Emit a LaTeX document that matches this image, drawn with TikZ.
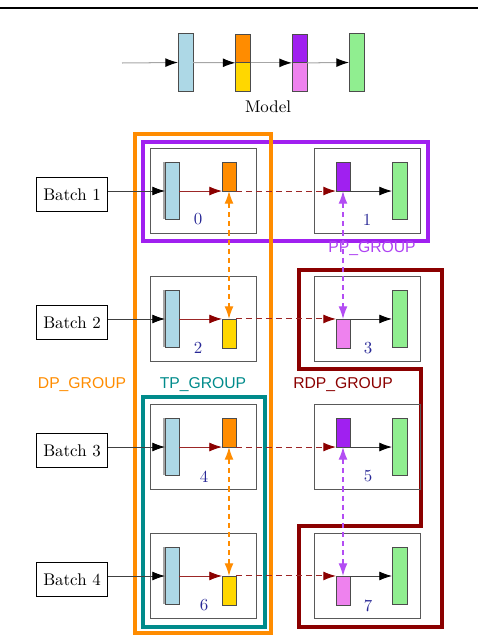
\documentclass[tikz,border=0pt]{standalone}
\usepackage{fontspec}
\newfontfamily\grpfont{Liberation Sans}
\usetikzlibrary{arrows.meta,shadows}
\definecolor{lblue}{HTML}{ADD8E6}
\definecolor{dorange}{HTML}{FF8C00}
\definecolor{goldc}{HTML}{FFD700}
\definecolor{vpurple}{HTML}{A020F0}
\definecolor{violetc}{HTML}{EE82EE}
\definecolor{lgreen}{HTML}{90EE90}
\definecolor{dred}{HTML}{8B0000}
\definecolor{dteal}{HTML}{008B8B}
\definecolor{numblue}{RGB}{40,40,150}
\begin{document}
\begin{tikzpicture}[x=0.592pt,y=-0.592pt,
  layer/.style={draw=black!70, line width=0.5pt, minimum width=8.3pt, inner sep=0pt, outer sep=0pt},
  tall/.style={layer, minimum height=34pt},
  short/.style={layer, minimum height=17.2pt},
  wide/.style={minimum width=8.9pt},
  shad/.style={drop shadow={shadow xshift=-1.1pt, shadow yshift=0.4pt, fill=gray!70, opacity=1}},
  gpu/.style={draw=black!65, line width=0.6pt, minimum width=63.3pt, minimum height=50.3pt, inner sep=0pt},
  batch/.style={draw=black, line width=0.6pt, minimum width=42.6pt, minimum height=20.7pt, inner sep=0pt},
  num/.style={text=numblue, inner sep=0pt},
  grplabel/.style={font=\grpfont\fontsize{9.3}{11}\selectfont, inner sep=0pt},
  frame/.style={line width=1.8pt},
  mline/.style={draw=black!35, line width=0.6pt, -{Latex[length=7.5pt,width=5.3pt,color=black]}},
  barrow/.style={draw=black!75, line width=0.5pt, -{Latex[length=7.5pt,width=5.3pt,color=black]}},
  rarrow/.style={draw=dred!85, line width=0.5pt, -{Latex[length=7.5pt,width=5.3pt,color=dred]}},
  rdash/.style={draw=dred!85, line width=0.6pt, dash pattern=on 3.5pt off 2.4pt, -{Latex[length=7.5pt,width=5.3pt,color=dred]}},
  odash/.style={draw=dorange, line width=0.7pt, dash pattern=on 3pt off 2.4pt, {Latex[length=7.5pt,width=5.3pt]}-{Latex[length=7.5pt,width=5.3pt]}},
  pdash/.style={draw=vpurple!80, line width=0.7pt, dash pattern=on 3pt off 2.4pt, {Latex[length=7.5pt,width=5.3pt]}-{Latex[length=7.5pt,width=5.3pt]}}
]
\useasboundingbox (0,0) rectangle (478,636);

% top rule
\draw[line width=1.5pt] (0,8) -- (478,8);

% model
\coordinate (mstart) at (122,63);
\node[tall,wide,fill=lblue] (m1) at (185.5,62.5) {};
\node[short,wide,minimum height=17pt,fill=dorange] (m2a) at (243,48.5) {};
\node[short,wide,minimum height=17pt,fill=goldc] (m2b) at (243,77) {};
\node[short,wide,minimum height=17pt,fill=vpurple] (m3a) at (299.5,48.5) {};
\node[short,wide,minimum height=17pt,fill=violetc] (m3b) at (299.5,77) {};
\node[tall,wide,fill=lgreen] (m4) at (356.5,62.5) {};
\node[inner sep=0pt] (model) at (268,107) {Model};
\draw[mline] (mstart) -- (m1.west);
\draw[mline] (m1.east) -- (m2a.south west);
\draw[mline] (m2a.south east) -- (m3a.south west);
\draw[mline] (m3a.south east) -- (m4.west);

% group frames
\draw[dred,frame] (299,270) -- (442,270) -- (442,627) -- (299,627) -- (299,526) -- (421,526) -- (421,369) -- (299,369) -- cycle;
\draw[vpurple,frame] (143,142) rectangle (428,241);
\draw[dorange,frame] (135,134) rectangle (271,633);
\draw[dteal,frame] (143,397) rectangle (265,627);

\node[grplabel,text=vpurple!85] (lpp) at (372,249) {PP\_GROUP};
\node[grplabel,text=dorange] (ldp) at (82,385) {DP\_GROUP};
\node[grplabel,text=dteal] (ltp) at (203,385) {TP\_GROUP};
\node[grplabel,text=dred] (lrdp) at (343,385) {RDP\_GROUP};

% row 1 (y=191)
\node[gpu] (g0) at (203.5,191) {};
\node[gpu] (g1) at (367.5,191) {};
\node[batch] (b1) at (72,194.5) {Batch 1};
\node[tall,fill=lblue,shad] (e0) at (172,191) {};
\node[short,fill=dorange] (a0) at (229,176.5) {};
\node[short,fill=vpurple] (p0) at (343,176.5) {};
\node[tall,wide,fill=lgreen] (h0) at (399.5,191) {};
\node[num] (n0) at (198,219.5) {0};
\node[num] (n1) at (367,219.5) {1};
\draw[barrow] (b1.east |- e0.west) -- (e0.west);
\draw[rarrow] (e0.east |- a0.south west) -- (a0.south west);
\draw[rdash] (a0.south east) -- (p0.south west);
\draw[barrow] (p0.south east) -- (h0.west |- p0.south east);

% row 2 (y=319)
\node[gpu] (g2) at (203.5,319) {};
\node[gpu] (g3) at (367.5,319) {};
\node[batch] (b2) at (72,322.5) {Batch 2};
\node[tall,fill=lblue,shad] (e1) at (172,319) {};
\node[short,fill=goldc] (a1) at (229,333.5) {};
\node[short,fill=violetc] (p1) at (343,333.5) {};
\node[tall,wide,fill=lgreen] (h1) at (399.5,319) {};
\node[num] (n2) at (198,348) {2};
\node[num] (n3) at (368,348) {3};
\draw[barrow] (b2.east |- e1.west) -- (e1.west);
\draw[rarrow] (e1.east |- a1.north west) -- (a1.north west);
\draw[rdash] (a1.north east) -- (p1.north west);
\draw[barrow] (p1.north east) -- (h1.west |- p1.north east);

% row 3 (y=447)
\node[gpu] (g4) at (203.5,447) {};
\node[gpu] (g5) at (367.5,447) {};
\node[batch] (b3) at (72,450.5) {Batch 3};
\node[tall,fill=lblue,shad] (e2) at (172,447) {};
\node[short,fill=dorange] (a2) at (229,432.5) {};
\node[short,fill=vpurple] (p2) at (343,432.5) {};
\node[tall,wide,fill=lgreen] (h2) at (399.5,447) {};
\node[num] (n4) at (204,476.5) {4};
\node[num] (n5) at (368,476.5) {5};
\draw[barrow] (b3.east |- e2.west) -- (e2.west);
\draw[rarrow] (e2.east |- a2.south west) -- (a2.south west);
\draw[rdash] (a2.south east) -- (p2.south west);
\draw[barrow] (p2.south east) -- (h2.west |- p2.south east);

% row 4 (y=576)
\node[gpu] (g6) at (203.5,576) {};
\node[gpu] (g7) at (367.5,576) {};
\node[batch] (b4) at (72,579.5) {Batch 4};
\node[tall,fill=lblue,shad] (e3) at (172,576) {};
\node[short,fill=goldc] (a3) at (229,590.5) {};
\node[short,fill=violetc] (p3) at (343,590.5) {};
\node[tall,wide,fill=lgreen] (h3) at (399.5,576) {};
\node[num] (n6) at (204,605.5) {6};
\node[num] (n7) at (368,605.5) {7};
\draw[barrow] (b4.east |- e3.west) -- (e3.west);
\draw[rarrow] (e3.east |- a3.north west) -- (a3.north west);
\draw[rdash] (a3.north east) -- (p3.north west);
\draw[barrow] (p3.north east) -- (h3.west |- p3.north east);

% vertical dashed links
\draw[odash] (a0.south) -- (a1.north);
\draw[odash] (a2.south) -- (a3.north);
\draw[pdash] (p0.south) -- (p1.north);
\draw[pdash] (p2.south) -- (p3.north);
\end{tikzpicture}
\end{document}
